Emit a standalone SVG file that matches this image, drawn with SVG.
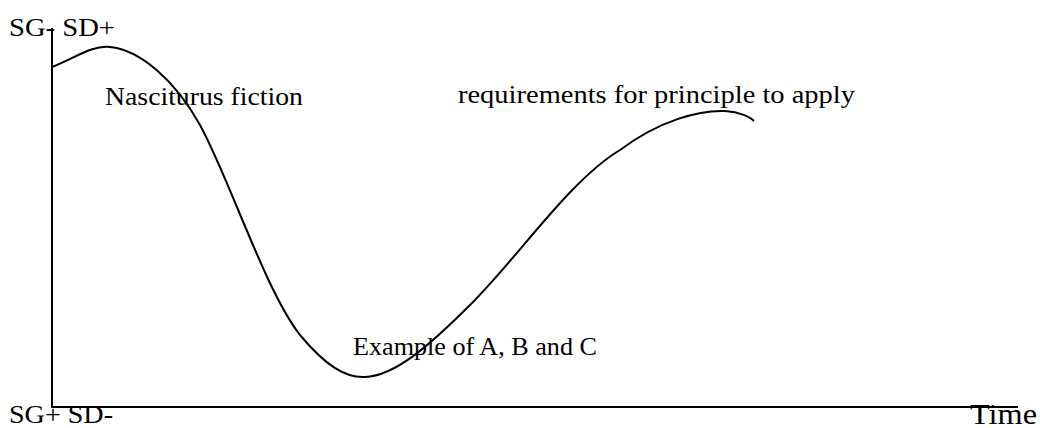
<svg xmlns="http://www.w3.org/2000/svg" width="1040" height="428" viewBox="0 0 1040 428">
<style>
.t{font-family:"Liberation Serif","DejaVu Serif",serif;font-size:26px;fill:#000}
.tm{font-family:"Liberation Serif","DejaVu Serif",serif;font-size:30px;fill:#000}
.ax{stroke:#000;stroke-width:2;fill:none}
.cv{stroke:#000;stroke-width:2;fill:none}
</style>
<rect width="1040" height="428" fill="#fff"/>
<g id="axes">
<line class="ax" x1="52" y1="28" x2="52" y2="407"/>
<line class="ax" x1="51" y1="407" x2="1018" y2="407"/>
</g>
<g id="curve">
<path class="cv" d="M52,67 C75,58 92,45 110,47 C140,50 175,80 200,125 C230,180 265,290 300,335 C325,365 345,378 365,377 C395,376 430,345 470,305 C520,255 570,180 620,150 C660,120 700,110 725,111 C740,112 750,117 754,121"/>
</g>
<g id="labels">
<text class="t" x="9" y="36" textLength="106" lengthAdjust="spacingAndGlyphs">SG- SD+</text>
<text class="t" x="9" y="423" textLength="104" lengthAdjust="spacingAndGlyphs">SG+ SD-</text>
<text class="tm" x="970" y="424" textLength="67" lengthAdjust="spacingAndGlyphs">Time</text>
<text class="t" x="105" y="105" textLength="198" lengthAdjust="spacingAndGlyphs">Nasciturus fiction</text>
<text class="t" x="458" y="103" textLength="397" lengthAdjust="spacingAndGlyphs">requirements for principle to apply</text>
<text class="t" x="353" y="355" textLength="244" lengthAdjust="spacingAndGlyphs">Example of A, B and C</text>
</g>
</svg>
